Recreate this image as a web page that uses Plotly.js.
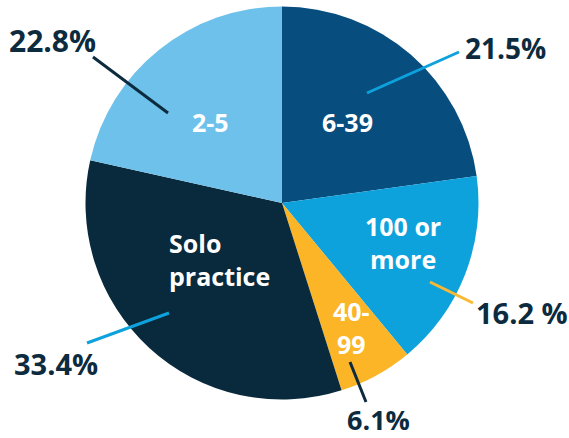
<!DOCTYPE html>
<html>
<head>
<meta charset="utf-8">
<script src="https://cdn.plot.ly/plotly-3.0.1.min.js"></script>
<style>html,body{margin:0;padding:0;background:#fff;}#chart{width:569px;height:438px;}</style>
</head>
<body>
<div id="chart"></div>
<script>
// Data (slice sizes as drawn in the picture, clockwise from 12 o'clock)
var categories = ["6-39", "100 or more", "40-99", "Solo practice", "2-5"];
var sliceValues = [22.8, 16.2, 6.1, 33.4, 21.5];
// Percentage labels as printed next to each slice
var percentLabels = ["21.5%", "16.2 %", "6.1%", "33.4%", "22.8%"];
// Text shown inside the slices
var insideLabels = ["6-39", "100 or<br>more", "40-<br>99", "Solo<br>practice", "2-5"];

var sliceColors = ["#074d7e", "#0ea2dc", "#fbb527", "#09293c", "#6ec1ea"];
var leaderColors = ["#0ea2dc", "#fbb830", "#0d2b3e", "#0ea2dc", "#0d2b3e"];

var W = 569, H = 438;
function px(x) { return x / W; }
function py(y) { return 1 - y / H; }

// Layout positions in pixels (styling, not data)
var insidePos = [[347, 122], [403, 242], [351, 327], [219, 259], [210, 122]];
var insideAlign = ["center", "center", "center", "left", "center"];
var outsidePos = [[505, 48], [522, 312], [378, 419], [56, 363], [52, 41]];
var outsideSize = [28, 29, 27, 29, 30];
var leaderLines = [
  [[367, 93], [459, 52]],
  [[430, 282], [473, 303]],
  [[350, 362], [366, 402]],
  [[169, 313], [87, 343]],
  [[168, 113], [93, 57]]
];

var cx = 282, cy = 203, R = 196.5;

var trace = {
  type: "pie",
  labels: categories,
  values: sliceValues,
  sort: false,
  direction: "clockwise",
  rotation: 0,
  textinfo: "none",
  hoverinfo: "label+percent",
  marker: { colors: sliceColors, line: { width: 0 } },
  domain: { x: [px(cx - R), px(cx + R)], y: [py(cy + R), py(cy - R)] },
  showlegend: false
};

var annotations = [];
var shapes = [];
for (var i = 0; i < categories.length; i++) {
  annotations.push({
    xref: "paper", yref: "paper",
    x: px(insidePos[i][0]), y: py(insidePos[i][1]),
    xanchor: "center", yanchor: "middle",
    text: insideLabels[i], showarrow: false, align: insideAlign[i],
    font: { family: "Open Sans", size: 25, color: "#ffffff", weight: 700 }
  });
  annotations.push({
    xref: "paper", yref: "paper",
    x: px(outsidePos[i][0]), y: py(outsidePos[i][1]),
    xanchor: "center", yanchor: "middle",
    text: percentLabels[i], showarrow: false,
    font: { family: "Open Sans", size: outsideSize[i], color: "#0d2b3e", weight: 700 }
  });
  shapes.push({
    type: "line", xref: "paper", yref: "paper",
    x0: px(leaderLines[i][0][0]), y0: py(leaderLines[i][0][1]),
    x1: px(leaderLines[i][1][0]), y1: py(leaderLines[i][1][1]),
    line: { color: leaderColors[i], width: 3 }
  });
}

var layout = {
  width: W, height: H,
  margin: { l: 0, r: 0, t: 0, b: 0 },
  paper_bgcolor: "#ffffff",
  plot_bgcolor: "#ffffff",
  annotations: annotations,
  shapes: shapes,
  showlegend: false
};

Plotly.newPlot("chart", [trace], layout, { displayModeBar: false, staticPlot: true });
</script>
</body>
</html>
